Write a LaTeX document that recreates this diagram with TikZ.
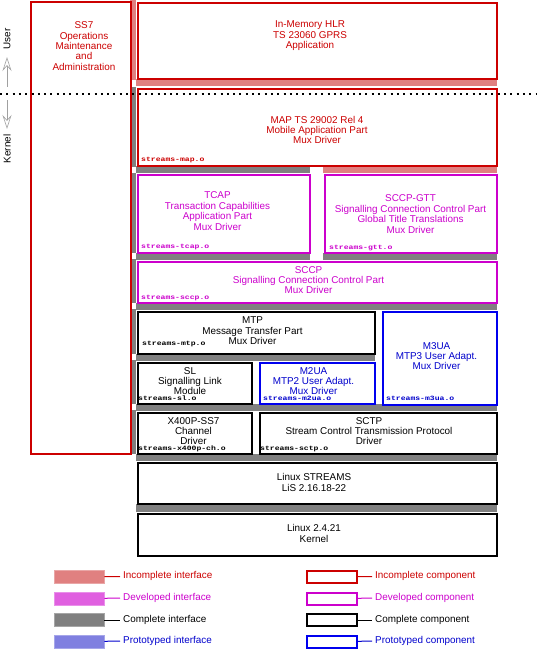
\documentclass[tikz,border=0pt]{standalone}
\usepackage{fontspec}
\setmainfont{Liberation Sans}
\newfontfamily\monofnt{Liberation Mono}
\usetikzlibrary{arrows.meta}
\definecolor{cred}{HTML}{CC0000}
\definecolor{cmag}{HTML}{CC00CC}
\definecolor{cblue}{HTML}{0000EE}
\definecolor{tblue}{HTML}{0000CC}
\definecolor{ipink}{HTML}{E08080}
\definecolor{imag}{HTML}{E060E0}
\definecolor{igray}{HTML}{808080}
\definecolor{iblue}{HTML}{8080E0}
\definecolor{arrgray}{HTML}{A0A0A0}
\newcommand{\objfile}[1]{\scalebox{1}[0.8]{\fontsize{8.1}{8}\monofnt\bfseries #1}}
\begin{document}
\begin{tikzpicture}[x=1pt,y=-1pt,
  every node/.style={font=\fontsize{9.9}{10.4}\selectfont, inner sep=0pt},
  comp/.style={draw=#1, line width=2pt, fill=white, anchor=north west, inner sep=0pt},
  lbl/.style={text=#1, align=center},
  obj/.style={anchor=base west, text=#1},
  ibar/.style={fill=#1, draw=none},
  swatch/.style={fill=#1, draw=#1!70!white, line width=0.8pt, minimum width=50pt, minimum height=13pt},
  lcomp/.style={draw=#1, line width=2pt, fill=white, minimum width=50pt, minimum height=12pt},
  ltext/.style={anchor=west, inner xsep=3pt, text=#1},
  lline/.style={draw=#1, line width=1pt},
  ukarrow/.style={draw=arrgray, line width=0.6pt, -{Stealth[open, length=14pt, width=9pt, inset=5pt]}}
]
\useasboundingbox (0,0) rectangle (536,650);

% ---- interface bars ----
\fill[ibar=ipink] (130,0) rectangle (136,80);
\fill[ibar=ipink] (136,79) rectangle (497,86);
\foreach \a/\b in {87/167,173/253,259/303,309/354,360/404,410/454}
  \fill[ibar=igray] (130,\a) rectangle (136,\b);
\fill[ibar=igray] (136,166) rectangle (310,173);
\fill[ibar=ipink] (323,166) rectangle (497,173);
\fill[ibar=igray] (136,253) rectangle (310,260);
\fill[ibar=igray] (323,253) rectangle (497,260);
\fill[ibar=igray] (136,303) rectangle (497,310);
\fill[ibar=igray] (136,354) rectangle (375,361);
\fill[ibar=igray] (136,404) rectangle (497,411);
\fill[ibar=igray] (136,454) rectangle (497,461);
\fill[ibar=igray] (136,504) rectangle (497,512);

% ---- components ----
\node[comp=cred, minimum width=100pt, minimum height=452pt] (ss7) at (29.5,1) {};
\node[comp=cred, minimum width=359pt, minimum height=76pt] (hlr) at (137,2) {};
\node[comp=cred, minimum width=359pt, minimum height=77pt] (map) at (137,88) {};
\node[comp=cmag, minimum width=172pt, minimum height=78pt] (tcap) at (137,174) {};
\node[comp=cmag, minimum width=172pt, minimum height=78pt] (gtt) at (324,174) {};
\node[comp=cmag, minimum width=359pt, minimum height=41pt] (sccp) at (137,261) {};
\node[comp=black, minimum width=237pt, minimum height=42pt] (mtp) at (137,311) {};
\node[comp=cblue, minimum width=114pt, minimum height=93pt] (m3ua) at (382,311) {};
\node[comp=black, minimum width=114pt, minimum height=41pt] (sl) at (137,362) {};
\node[comp=cblue, minimum width=115pt, minimum height=41pt] (m2ua) at (259,362) {};
\node[comp=black, minimum width=114pt, minimum height=41pt] (x4) at (137,412) {};
\node[comp=black, minimum width=237pt, minimum height=41pt] (sctp) at (259,412) {};
\node[comp=black, minimum width=359pt, minimum height=41pt] (lis) at (137,462) {};
\node[comp=black, minimum width=359pt, minimum height=42pt] (kern) at (137,513) {};

% ---- component texts ----
\node[lbl=cred] (ss7t) at (84,46) {SS7\\Operations\\Maintenance\\and\\Administration};
\node[lbl=cred] (hlrt) at (310,36) {In-Memory HLR\\TS 23060 GPRS\\Application};
\node[lbl=cred] (mapt) at (317,130) {MAP TS 29002 Rel 4\\Mobile Application Part\\Mux Driver};
\node[lbl=cmag] (tcapt) at (217.5,211) {TCAP\\Transaction Capabilities\\Application Part\\Mux Driver};
\node[lbl=cmag] (gttt) at (410.5,214) {SCCP-GTT\\Signalling Connection Control Part\\Global Title Translations\\Mux Driver};
\node[lbl=cmag] (sccpt) at (308.5,280) {SCCP\\Signalling Connection Control Part\\Mux Driver};
\node[lbl=black] (mtpt) at (252.5,331) {MTP\\Message Transfer Part\\Mux Driver};
\node[lbl=tblue] (m3uat) at (436.5,356) {M3UA\\MTP3 User Adapt.\\Mux Driver};
\node[lbl=black] (slt) at (190,381) {SL\\Signalling Link\\Module};
\node[lbl=tblue] (m2uat) at (313.5,381) {M2UA\\MTP2 User Adapt.\\Mux Driver};
\node[lbl=black] (x4t) at (193.5,431) {X400P-SS7\\Channel\\Driver};
\node[lbl=black] (sctpt) at (369,431) {SCTP\\Stream Control Transmission Protocol\\Driver};
\node[lbl=black] (list) at (314,482.5) {Linux STREAMS\\LiS 2.16.18-22};
\node[lbl=black] (kernt) at (314,533.5) {Linux 2.4.21\\Kernel};

% ---- object file names ----
\node[obj=cred] (mapo) at (141,161) {\objfile{streams-map.o}};
\node[obj=cmag] (tcapo) at (141,248) {\objfile{streams-tcap.o}};
\node[obj=cmag] (gtto) at (329,249) {\objfile{streams-gtt.o}};
\node[obj=cmag] (sccpo) at (141,299) {\objfile{streams-sccp.o}};
\node[obj=black] (mtpo) at (142,345) {\objfile{streams-mtp.o}};
\node[obj=black] (slo) at (138,400) {\objfile{streams-sl.o}};
\node[obj=tblue] (m2uao) at (263,400) {\objfile{streams-m2ua.o}};
\node[obj=tblue] (m3uao) at (386,400) {\objfile{streams-m3ua.o}};
\node[obj=black] (x4o) at (138,450) {\objfile{streams-x400p-ch.o}};
\node[obj=black] (sctpo) at (260,450) {\objfile{streams-sctp.o}};

% ---- user / kernel divider ----
\coordinate (dl) at (0,94);
\coordinate (dr) at (536,94);
\draw[line width=2pt, dash pattern=on 2pt off 4.3pt] (dl) -- (dr);
\node[rotate=90] (usert) at (7,39) {User};
\node[rotate=90] (kernelt) at (7,149) {Kernel};
\coordinate (ua1) at (7,87);
\coordinate (ua2) at (7,57);
\coordinate (ka1) at (7,100);
\coordinate (ka2) at (7,129);
\draw[ukarrow] (ua1) -- (ua2);
\draw[ukarrow] (ka1) -- (ka2);

% ---- legend ----
\node[swatch=ipink] (ls1) at (79,577) {};
\node[swatch=imag] (ls2) at (79,598.5) {};
\node[swatch=igray] (ls3) at (79,620) {};
\node[swatch=iblue] (ls4) at (79,641.5) {};
\node[ltext=cred] (lt1) at (120,576) {Incomplete interface};
\node[ltext=cmag] (lt2) at (120,597.7) {Developed interface};
\node[ltext=black] (lt3) at (120,620) {Complete interface};
\node[ltext=tblue] (lt4) at (120,640.7) {Prototyped interface};
\draw[lline=cred] (ls1) -- (lt1);
\draw[lline=cmag] (ls2) -- (lt2);
\draw[lline=black] (ls3) -- (lt3);
\draw[lline=tblue] (ls4) -- (lt4);

\node[lcomp=cred] (lc1) at (331.5,577) {};
\node[lcomp=cmag] (lc2) at (331.5,598.5) {};
\node[lcomp=black] (lc3) at (331.5,620) {};
\node[lcomp=cblue] (lc4) at (331.5,641.5) {};
\node[ltext=cred] (lu1) at (372,576) {Incomplete component};
\node[ltext=cmag] (lu2) at (372,597.7) {Developed component};
\node[ltext=black] (lu3) at (372,620) {Complete component};
\node[ltext=tblue] (lu4) at (372,640.7) {Prototyped component};
\draw[lline=cred] (lc1) -- (lu1);
\draw[lline=cmag] (lc2) -- (lu2);
\draw[lline=black] (lc3) -- (lu3);
\draw[lline=tblue] (lc4) -- (lu4);
\end{tikzpicture}
\end{document}
